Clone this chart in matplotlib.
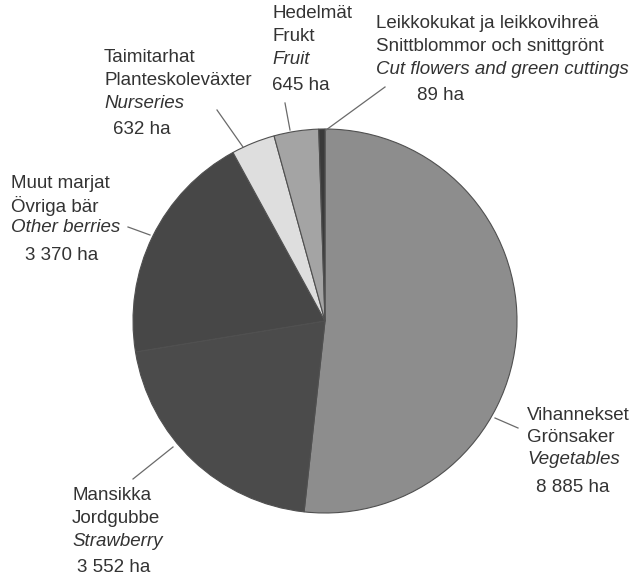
import matplotlib.pyplot as plt

plt.rcParams["font.family"] = ["Liberation Sans", "DejaVu Sans"]

# data
names_fi = ["Vihannekset", "Mansikka", "Muut marjat", "Taimitarhat", "Hedelmät",
            "Leikkokukat ja leikkovihreä"]
names_sv = ["Grönsaker", "Jordgubbe", "Övriga bär", "Planteskoleväxter", "Frukt",
            "Snittblommor och snittgrönt"]
names_en = ["Vegetables", "Strawberry", "Other berries", "Nurseries", "Fruit",
            "Cut flowers and green cuttings"]
area_ha = [8885, 3552, 3370, 632, 645, 89]
colors = ["#8d8d8d", "#4b4b4b", "#474747", "#dedede", "#a4a4a4", "#3a3a3a"]

W, H = 635, 580
fig = plt.figure(figsize=(W / 100, H / 100), dpi=100)
ax = fig.add_axes([0, 0, 1, 1])
ax.set_xlim(0, W)
ax.set_ylim(0, H)
ax.axis("off")

# pie in pixel coordinates (y measured from bottom)
ax.pie(area_ha, colors=colors, startangle=90, counterclock=False,
       center=(325, H - 321), radius=192,
       wedgeprops=dict(edgecolor="#505050", linewidth=0.8))
ax.set_xlim(0, W)
ax.set_ylim(0, H)
ax.set_aspect("equal")

# label layout: text x, first line y, number x offset, leader (x1, y1, x2, y2) in image px
layout = [
    (527, 415, 9, (495, 418, 518, 428)),
    (72, 496, 5, (173, 447, 133, 479)),
    (11, 183, 14, (150, 235, 128, 227)),
    (104, 58, 9, (243, 147, 217, 110)),
    (272, 14, 0, (290, 130, 285, 103)),
    (376, 24, 41, (326, 130, 385, 87)),
]

tc = "#333333"
fs = 13.5
for i, (tx, ty, nx, ld) in enumerate(layout):
    ax.text(tx, H - ty, names_fi[i], fontsize=fs, color=tc, va="center", ha="left")
    ax.text(tx, H - ty - 22.5, names_sv[i], fontsize=fs, color=tc, va="center", ha="left")
    ax.text(tx, H - ty - 45, names_en[i], fontsize=fs, color=tc, va="center", ha="left",
            style="italic")
    num = f"{area_ha[i]:,}".replace(",", " ") + " ha"
    ax.text(tx + nx, H - ty - 72, num, fontsize=fs, color=tc, va="center", ha="left")
    x1, y1, x2, y2 = ld
    ax.plot([x1, x2], [H - y1, H - y2], color="#6a6a6a", linewidth=0.9)

fig.savefig("out.png", dpi=100, facecolor="white")
